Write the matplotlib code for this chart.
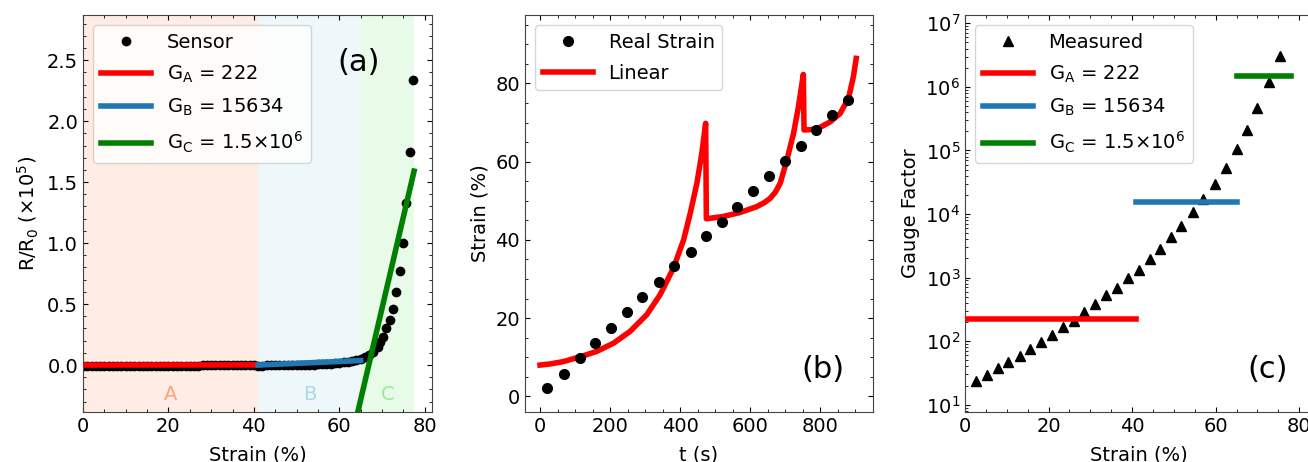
import matplotlib
matplotlib.use("Agg")
import matplotlib.pyplot as plt
import numpy as np

# ---------------- data ----------------
# Panel (a): sensor R/R0 (x1e5) vs strain (%)
sensor_strain = [0, 1, 2, 3, 4, 5, 6, 7, 8, 9, 10, 11, 12, 13, 14, 15, 16, 17, 18, 19,
                 20, 21, 22, 23, 24, 25, 26, 27, 28, 29, 30, 31, 32, 33, 34, 35, 36, 37, 38, 39,
                 40, 41, 42, 43, 44, 45, 46, 47, 48, 49, 50, 51, 52, 53, 54, 55, 56, 57, 58, 59,
                 60, 61, 62, 63, 64, 65, 66, 67, 68, 69, 69.5, 70.2, 71.0, 71.8, 72.6, 73.2,
                 74.3, 75.0, 75.6, 76.5, 77.3]
sensor_r = [-0.008, -0.008, -0.008, -0.008, -0.008, -0.008, -0.008, -0.008, -0.008, -0.008,
            -0.008, -0.008, -0.008, -0.008, -0.008, -0.008, -0.008, -0.008, -0.008, -0.008,
            -0.008, -0.008, -0.008, -0.008, -0.008, -0.008, -0.008, -0.008, 0.003, 0.003,
            0.003, 0.003, 0.003, 0.003, 0.003, 0.003, 0.003, 0.003, 0.003, 0.003,
            0.003, -0.004, -0.004, -0.003, -0.003, -0.002, -0.002, -0.001, -0.001, 0.000,
            0.000, 0.001, 0.002, 0.003, 0.004, 0.005, 0.007, 0.009, 0.011, 0.014,
            0.017, 0.021, 0.026, 0.032, 0.040, 0.050, 0.064, 0.085, 0.11, 0.15, 0.19, 0.23,
            0.30, 0.37, 0.46, 0.60, 0.77, 1.00, 1.33, 1.75, 2.34]

# Fit lines (gauge factors) and their strain ranges
gauge_labels = [r'G$_\mathregular{A}$ = 222', r'G$_\mathregular{B}$ = 15634',
                r'G$_\mathregular{C}$ = 1.5×10$^\mathregular{6}$']
gauge_values = [222, 15634, 1.5e6]
fit_a_x = [0, 41]
fit_a_y = [0.0, 0.001]
fit_b_x = [41, 65]
fit_b_y = [0.0, 0.037]
fit_c_x = [64, 77.5]
fit_c_y = [-0.435, 1.59]
region_bounds = [0, 41, 65, 77.5]
region_names = ['A', 'B', 'C']

# Panel (b): real strain vs time, and linear estimate
real_t = [21, 67, 114, 157, 202, 249, 291, 339, 384, 431, 474, 520, 562, 608, 655,
          700, 745, 789, 834, 880]
real_strain = [2.1, 5.8, 9.8, 13.6, 17.5, 21.5, 25.3, 29.2, 33.2, 36.9, 40.9, 44.7,
               48.3, 52.6, 56.3, 60.3, 64.0, 68.1, 71.9, 75.8]
linear_t = [0, 30, 67, 114, 162, 210, 257, 305, 343, 381, 410, 429, 448, 462, 473,
            475, 524, 571, 619, 640, 657, 672, 686, 705, 724, 738, 752,
            754, 790, 829, 857, 881, 895, 903]
linear_strain = [8.0, 8.3, 8.9, 10.1, 11.5, 13.6, 16.6, 20.9, 26.0, 32.8, 40.0, 46.8, 54.5,
                 62.1, 69.8,
                 45.4, 46.0, 47.0, 48.5, 49.5, 50.6, 52.2, 54.5, 60.4, 67.2, 74.0, 82.3,
                 68.1, 68.3, 70.2, 72.3, 76.2, 81.7, 86.4]

# Panel (c): gauge factor vs strain
gf_strain = [2.6, 5.2, 7.8, 10.4, 13.1, 15.6, 18.3, 20.9, 23.4, 26.1, 28.5, 31.1, 33.7,
             36.3, 38.9, 41.6, 44.3, 46.7, 49.4, 51.8, 54.5, 57.0, 59.8, 62.4, 65.0,
             67.6, 70.0, 72.7, 75.4]
gf_log = [1.37, 1.47, 1.58, 1.67, 1.76, 1.88, 1.99, 2.10, 2.22, 2.32, 2.46, 2.59, 2.72,
          2.83, 3.00, 3.12, 3.29, 3.45, 3.63, 3.81, 4.03, 4.24, 4.47, 4.72, 5.02,
          5.32, 5.67, 6.07, 6.49]
gf_ranges = [(0, 41), (41, 65), (65, 78)]

# ---------------- style ----------------
FS = 14
plt.rcParams['font.family'] = ['DejaVu Sans']
plt.rcParams['font.size'] = FS
plt.rcParams['mathtext.default'] = 'regular'
line_colors = ['red', '#1f77b4', 'green']
span_colors = ['lightsalmon', 'lightblue', 'lightgreen']
LW = 4
LEG = dict(loc='upper left', fontsize=FS, handlelength=2.6, borderaxespad=0.5,
           labelspacing=0.62)

fig = plt.figure(figsize=(13.08, 4.62), dpi=100)
W, H = 1308, 462
def axpos(l, r, t, b):
    return [l / W, (H - b) / H, (r - l) / W, (b - t) / H]

ax_a = fig.add_axes(axpos(83, 432, 15, 412))
ax_b = fig.add_axes(axpos(525, 873, 15, 412))
ax_c = fig.add_axes(axpos(965, 1313, 15, 412))

def style_ax(ax):
    ax.minorticks_on()
    ax.tick_params(which='both', direction='in', top=True, right=True, labelsize=FS)
    for s in ax.spines.values():
        s.set_color('#444444')

LP = 7

# ---- (a)
for i in range(3):
    ax_a.axvspan(region_bounds[i], region_bounds[i + 1], color=span_colors[i], alpha=0.2, lw=0)
    ax_a.text((region_bounds[i] + region_bounds[i + 1]) / 2, -0.24, region_names[i],
              color=span_colors[i], ha='center', va='center', fontsize=FS)
ax_a.plot(sensor_strain, sensor_r, 'o', color='black', ms=6, label='Sensor', zorder=2)
ax_a.plot(fit_a_x, fit_a_y, color=line_colors[0], lw=LW, label=gauge_labels[0], zorder=3)
ax_a.plot(fit_b_x, fit_b_y, color=line_colors[1], lw=LW, label=gauge_labels[1], zorder=3)
ax_a.plot(fit_c_x, fit_c_y, color=line_colors[2], lw=LW, label=gauge_labels[2], zorder=3)
ax_a.set_xlim(0, 81.7)
ax_a.set_ylim(-0.385, 2.87)
ax_a.set_xticks([0, 20, 40, 60, 80])
ax_a.set_yticks([0.0, 0.5, 1.0, 1.5, 2.0, 2.5])
ax_a.set_xlabel('Strain (%)', fontsize=FS, labelpad=LP)
ax_a.set_ylabel(r'R/R$_\mathregular{0}$ (×10$^\mathregular{5}$)', fontsize=FS)
ax_a.legend(**LEG)
ax_a.text(0.79, 0.88, '(a)', transform=ax_a.transAxes, fontsize=22, ha='center', va='center')
style_ax(ax_a)

# ---- (b)
ax_b.plot(linear_t, linear_strain, color='red', lw=LW, label='Linear', zorder=2)
ax_b.plot(real_t, real_strain, 'o', color='black', ms=7, label='Real Strain', zorder=3)
h, l = ax_b.get_legend_handles_labels()
ax_b.legend([h[1], h[0]], [l[1], l[0]], **LEG)
ax_b.set_xlim(-43, 951)
ax_b.set_ylim(-4, 97.5)
ax_b.set_xticks([0, 200, 400, 600, 800])
ax_b.set_yticks([0, 20, 40, 60, 80])
ax_b.set_xlabel('t (s)', fontsize=FS, labelpad=LP)
ax_b.set_ylabel('Strain (%)', fontsize=FS)
ax_b.text(0.856, 0.106, '(b)', transform=ax_b.transAxes, fontsize=22, ha='center', va='center')
style_ax(ax_b)

# ---- (c)
gf_vals = [10 ** v for v in gf_log]
ax_c.plot(gf_strain, gf_vals, '^', color='black', ms=7, label='Measured', zorder=2)
for i in range(3):
    ax_c.plot(gf_ranges[i], [gauge_values[i], gauge_values[i]], color=line_colors[i], lw=LW,
              label=gauge_labels[i], zorder=3)
ax_c.set_yscale('log')
ax_c.set_xlim(0, 83.3)
ax_c.set_ylim(10 ** 0.885, 10 ** 7.13)
ax_c.set_xticks([0, 20, 40, 60, 80])
ax_c.set_xlabel('Strain (%)', fontsize=FS, labelpad=LP)
ax_c.set_ylabel('Gauge Factor', fontsize=FS)
ax_c.legend(**LEG)
ax_c.text(0.87, 0.106, '(c)', transform=ax_c.transAxes, fontsize=22, ha='center', va='center')
style_ax(ax_c)

fig.savefig('out.png', dpi=100)
